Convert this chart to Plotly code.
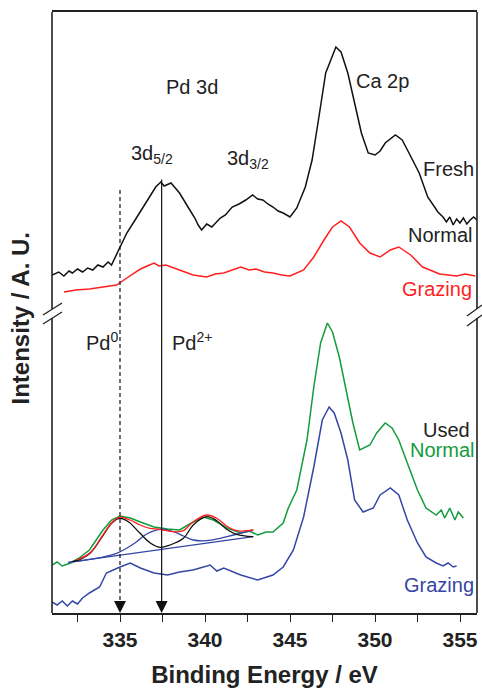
import plotly.graph_objects as go

# ---------------- data (binding energy in eV, intensity in arbitrary units) ----------------
fresh_normal_E = [331.0, 331.4, 331.7, 332.0, 332.2, 332.5, 332.8, 333.1, 333.4, 333.7, 334.0, 334.3, 334.5,
                  334.9, 335.4, 336.0, 336.6, 337.1, 337.4, 337.6, 338.0,
                  338.5, 339.0, 339.4, 339.6, 339.8, 340.1, 340.4, 340.9, 341.2, 341.6, 342.0, 342.4, 342.8,
                  343.1, 343.4, 343.7, 344.0, 344.3, 344.6,
                  345.0, 345.4, 345.9, 346.3, 346.7, 347.1, 347.4, 347.7, 348.0, 348.4, 348.8, 349.2,
                  349.6, 350.0, 350.3, 350.6, 351.2, 351.6, 352.0, 352.6, 353.1, 353.7, 354.0, 354.2,
                  354.4, 354.6, 354.8, 355.0, 355.2, 355.4, 355.6, 355.8, 356.0]
fresh_normal_I = [338, 341, 337, 342, 340, 344, 341, 345, 343, 348, 346, 351, 348,
                  363, 380, 396, 413, 426, 431, 427, 430,
                  420, 406, 395, 388, 383, 389, 386, 395, 398, 406, 409, 413, 418,
                  414, 413, 409, 406, 402, 400,
                  396, 405, 426, 453, 496, 540, 553, 566, 561, 540, 510, 480,
                  460, 458, 462, 470, 478, 473, 460, 440, 416, 401, 396, 391,
                  396, 388, 394, 390, 395, 389, 393, 396, 393]

fresh_grazing_E = [331.7, 332.4, 333.2, 334.0, 334.8, 335.4, 336.2, 336.6, 337.0, 337.3, 337.7, 338.5, 339.3,
                   340.1, 340.6, 341.1, 341.6, 342.1, 342.6, 343.0, 343.5, 344.0, 344.5, 345.0, 345.8, 346.4,
                   347.0, 347.5, 348.0, 348.5, 349.1, 349.7, 350.3, 350.9, 351.4, 352.1, 352.8, 353.8,
                   354.3, 354.8, 355.3, 355.9]
fresh_grazing_I = [321, 323, 324, 326, 328, 335, 344, 347, 350, 347, 348, 343, 338,
                   336, 339, 340, 343, 346, 343, 344, 341, 340, 338, 337, 343, 356,
                   373, 386, 392, 386, 370, 360, 356, 363, 366, 358, 346, 339,
                   338, 337, 339, 337]

used_normal_E = [331.0, 331.3, 331.6, 332.1, 332.6, 333.2, 334.0, 334.5, 335.0, 335.6, 336.2, 337.0,
                 337.8, 338.5, 339.1, 339.9, 340.5, 341.3, 342.1, 342.6, 343.1, 343.6, 344.0, 344.6,
                 344.9, 345.4, 346.0, 346.4, 346.8, 347.2, 347.5, 347.9, 348.3, 348.7, 349.1, 349.7,
                 350.1, 350.6, 351.0, 351.4, 351.9, 352.5, 353.0, 353.6, 353.9, 354.1, 354.4, 354.7,
                 354.9, 355.2]
used_normal_I = [48, 51, 47, 50, 55, 63, 83, 93, 97, 95, 91, 86,
                 84, 83, 89, 96, 93, 85, 80, 82, 78, 81, 81, 90,
                 105, 123, 173, 226, 270, 290, 281, 256, 223, 190, 163, 168,
                 180, 190, 185, 173, 150, 123, 105, 98, 103, 95, 105, 93,
                 101, 95]

used_grazing_E = [331.0, 331.3, 331.6, 331.9, 332.2, 332.5, 332.8, 333.2, 333.8, 334.2, 335.0, 335.6,
                  336.2, 337.0, 337.8, 338.5, 339.3, 340.3, 340.7, 341.1, 342.1, 343.1, 344.0, 344.6,
                  345.2, 345.8, 346.4, 346.9, 347.3, 347.6, 348.0, 348.4, 348.8, 349.3, 349.9, 350.3,
                  350.9, 351.4, 351.9, 352.5, 353.0, 353.6, 354.0, 354.3, 354.6, 354.8]
used_grazing_I = [11, 8, 12, 7, 12, 9, 15, 20, 26, 40, 46, 50,
                  45, 40, 38, 41, 43, 48, 42, 45, 38, 33, 38, 46,
                  63, 96, 146, 193, 206, 200, 180, 153, 113, 101, 105, 118,
                  125, 118, 93, 70, 56, 50, 47, 50, 46, 47]

# peak-fit of the used/normal Pd 3d region
fit_baseline_E = [331.96, 342.84]
fit_baseline_I = [50.7, 76.3]

fit_pd0_E = [332.2, 332.45, 333.24, 334.02, 334.51, 334.96, 335.49, 336.18, 336.76, 337.35, 337.94,
             338.73, 339.31, 340.1, 340.69, 341.27, 341.86, 342.84]
fit_pd0_I = [51.5, 52.3, 59.7, 78.0, 89.7, 94.7, 91.3, 79.7, 70.3, 65.7, 68.0,
             74.7, 88.0, 96.3, 92.3, 83.7, 78.7, 76.3]

fit_pd2_E = [331.96, 333.5, 334.8, 335.39, 335.98, 336.57, 337.35, 338.14, 338.73, 339.31, 340.1,
             340.88, 341.67, 342.84]
fit_pd2_I = [50.7, 54.3, 59.7, 64.7, 71.3, 79.0, 83.7, 81.3, 77.0, 73.0, 72.3,
             74.7, 78.0, 83.0]

fit_sum_E = [332.45, 333.24, 334.02, 334.51, 334.96, 335.59, 336.18, 336.76, 337.35, 338.14, 338.73,
             339.31, 340.1, 340.69, 341.27, 341.86, 342.45, 342.84]
fit_sum_I = [53.0, 60.3, 78.7, 90.3, 95.7, 93.0, 88.0, 84.7, 83.7, 81.3, 82.3,
             91.3, 98.0, 94.7, 87.0, 82.3, 82.3, 83.0]

# reference positions of Pd0 and Pd2+ 3d5/2 (eV) and top of their marker lines
pd0_position = 335.0
pd2_position = 337.45
pd0_line_top = 423
pd2_line_top = 435

x_ticks = [335, 340, 345, 350, 355]

# ---------------- figure ----------------
BLACK = "#111111"
RED = "#ff1f1f"
GREEN = "#129c3c"
BLUE = "#3446a6"
TEXT = "#222222"
FONT = "Liberation Sans"

fig = go.Figure()

def add_line(x, y, color, width=1.5, shape="linear"):
    fig.add_trace(go.Scatter(x=x, y=y, mode="lines", line=dict(color=color, width=width, shape=shape),
                             hoverinfo="skip", showlegend=False))

add_line(fresh_normal_E, fresh_normal_I, BLACK)
add_line(fresh_grazing_E, fresh_grazing_I, RED)
add_line(used_grazing_E, used_grazing_I, BLUE)
add_line(used_normal_E, used_normal_I, GREEN)
add_line(fit_baseline_E, fit_baseline_I, BLUE, 1.3)
add_line(fit_pd2_E, fit_pd2_I, BLUE, 1.3, "spline")
add_line(fit_pd0_E, fit_pd0_I, BLACK, 1.3, "spline")
add_line(fit_sum_E, fit_sum_I, RED, 1.3, "spline")

# marker lines for Pd0 (dashed) and Pd2+ (solid) with arrow heads at the axis
fig.add_shape(type="line", xref="x", yref="y", x0=pd0_position, x1=pd0_position, y0=pd0_line_top, y1=8,
              line=dict(color=BLACK, width=1.2, dash="4px,3px"))
fig.add_annotation(x=pd0_position, y=0, ax=pd0_position, ay=12, axref="x", ayref="y", text="",
                   showarrow=True, arrowhead=2, arrowsize=2, arrowwidth=1.2, arrowcolor=BLACK)
fig.add_annotation(x=pd2_position, y=0, ax=pd2_position, ay=pd2_line_top, axref="x", ayref="y", text="",
                   showarrow=True, arrowhead=2, arrowsize=2, arrowwidth=1.2, arrowcolor=BLACK)

# frame: left/right sides drawn with an axis break
LC = "#222222"
LW = 1.6
gap_lo, gap_hi = 0.4908, 0.5058
for xs in (0, 1):
    fig.add_shape(type="line", xref="paper", yref="paper", x0=xs, x1=xs, y0=0, y1=gap_lo,
                  line=dict(color=LC, width=LW))
    fig.add_shape(type="line", xref="paper", yref="paper", x0=xs, x1=xs, y0=gap_hi, y1=1,
                  line=dict(color=LC, width=LW))
for (x0, y0, x1, y1) in [(-0.0212, 0.4958, 0.0235, 0.5158), (-0.0212, 0.4809, 0.0235, 0.5008),
                         (0.9765, 0.4942, 1.0118, 0.5125), (0.9765, 0.4775, 1.0118, 0.4958)]:
    fig.add_shape(type="line", xref="paper", yref="paper", x0=x0, y0=y0, x1=x1, y1=y1,
                  line=dict(color=LC, width=1.3))

def label(x, y, text, color=TEXT, xanchor="center", size=20):
    fig.add_annotation(x=x, y=y, xref="x", yref="y", text=text, showarrow=False,
                       font=dict(family=FONT, size=size, color=color), xanchor=xanchor, yanchor="middle")

label(339.21, 526, "Pd 3d")
label(350.44, 532, "Ca 2p")
label(335.55, 459, "3d<sub>5/2</sub>", xanchor="left")
label(341.2, 454, "3d<sub>3/2</sub>", xanchor="left")
label(355.95, 444.5, "Fresh", xanchor="right")
label(355.85, 378, "Normal", xanchor="right")
label(355.85, 324, "Grazing", color=RED, xanchor="right")
label(332.9, 272, "Pd<sup>0</sup>", xanchor="left")
label(337.95, 272, "Pd<sup>2+</sup>", xanchor="left")
label(355.7, 183.5, "Used", xanchor="right")
label(355.95, 163, "Normal", color=GREEN, xanchor="right")
label(355.95, 28, "Grazing", color=BLUE, xanchor="right")

# y title
fig.add_annotation(x=-0.073, y=0.49, xref="paper", yref="paper", text="<b>Intensity / A. U.</b>",
                   showarrow=False, textangle=-90, xanchor="center", yanchor="middle",
                   font=dict(family=FONT, size=24, color=TEXT))

fig.update_layout(
    width=482, height=691,
    margin=dict(l=52, r=5, t=12, b=78),
    plot_bgcolor="white", paper_bgcolor="white",
    showlegend=False,
    xaxis=dict(range=[331, 356], tickvals=x_ticks, ticks="outside", ticklen=7, tickwidth=1.3,
               tickcolor=LC, showline=True, mirror=True, linecolor=LC, linewidth=LW,
               showgrid=False, zeroline=False,
               minor=dict(dtick=2.5, tick0=332.5, ticks="outside", ticklen=7, tickwidth=1.3, tickcolor=LC,
                          showgrid=False),
               tickfont=dict(family=FONT, size=21, color=TEXT, weight="bold"),
               title=dict(text="<b>Binding Energy / eV</b>", font=dict(family=FONT, size=24, color=TEXT),
                          standoff=16)),
    yaxis=dict(range=[0, 601], showticklabels=False, ticks="", showline=False, showgrid=False,
               zeroline=False),
)

fig.write_html("out.html", config={"displayModeBar": False},
               post_script="document.body.style.margin='0';document.body.style.overflow='hidden';")
